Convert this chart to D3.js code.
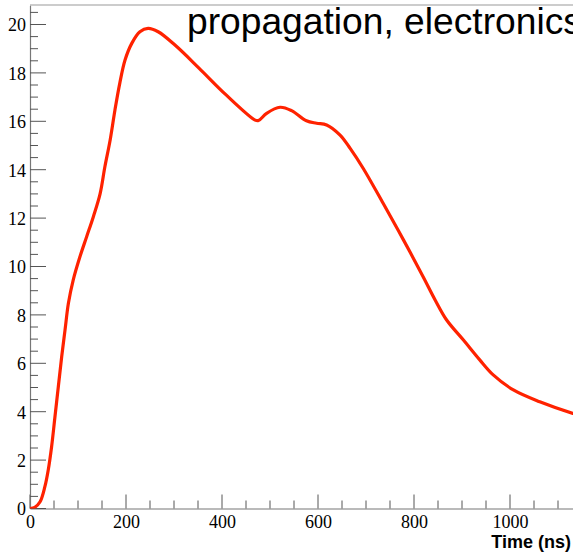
<!DOCTYPE html>
<html><head><meta charset="utf-8">
<script src="https://cdn.jsdelivr.net/npm/d3@7"></script>
<style>body{margin:0;background:#fff;} svg{display:block;}</style>
</head><body>
<script>
const timeNs = [0, 10, 21, 31, 38, 45, 52, 59, 66, 73, 80, 90, 104, 118, 132, 146, 156, 167, 177, 187, 198, 212, 229, 246, 267, 302, 352, 408, 469, 476, 493, 521, 545, 576, 597, 618, 646, 667, 694, 736, 778, 819, 844, 868, 903, 937, 965, 1007, 1062, 1131, 1160];
const signal = [0, 0.05, 0.28, 0.9, 1.59, 2.55, 3.79, 5.03, 6.27, 7.38, 8.48, 9.44, 10.4, 11.23, 12.06, 13.0, 14.12, 15.23, 16.47, 17.57, 18.53, 19.22, 19.70, 19.84, 19.70, 19.15, 18.2, 17.1, 16.05, 16.03, 16.33, 16.58, 16.44, 16.02, 15.92, 15.85, 15.43, 14.88, 14.06, 12.6, 11.1, 9.58, 8.62, 7.79, 6.96, 6.14, 5.52, 4.9, 4.41, 3.93, 3.78];
const xMajorTicks = [0, 200, 400, 600, 800, 1000];
const yMajorTicks = [0, 2, 4, 6, 8, 10, 12, 14, 16, 18, 20];
const titleText = "propagation, electronics";
const xTitle = "Time (ns)";

(function () {
const W = 573, H = 555;
const mLeft = 30, mBottom = 508.5, mTop = 5;
const xMax = 1150, yMax = 20.8;
const x = d3.scaleLinear().domain([0, xMax]).range([mLeft, mLeft + 0.48 * xMax]);
const y = d3.scaleLinear().domain([0, yMax]).range([mBottom, mBottom - 24.2 * yMax]);

const svg = d3.select("body").append("svg").attr("width", W).attr("height", H);

svg.append("clipPath").attr("id", "clip").append("rect")
  .attr("x", mLeft).attr("y", mTop).attr("width", x(xMax) - mLeft).attr("height", mBottom - mTop);

const axisColor = "#777";
svg.append("line").attr("x1", mLeft).attr("x2", x(xMax)).attr("y1", mTop).attr("y2", mTop).attr("stroke", "#999").attr("stroke-width", 1);

// x axis
const xMinor = d3.range(0, xMax + 1, 50).filter(v => !xMajorTicks.includes(v));
const xAxis = d3.axisBottom(x).tickValues(xMajorTicks).tickSize(0).tickFormat(d3.format("d"));
const gx = svg.append("g").attr("transform", `translate(0,${mBottom})`).call(xAxis);
gx.select(".domain").attr("stroke", axisColor).attr("stroke-width", 1.2);
gx.selectAll(".tick text").attr("font-family", "Liberation Serif, Times New Roman, serif")
  .attr("font-size", 18).attr("fill", "#000").attr("dy", null).attr("y", 19);
gx.selectAll(".tickmaj").data(xMajorTicks).enter().append("line")
  .attr("x1", d => x(d)).attr("x2", d => x(d)).attr("y1", 0).attr("y2", -14).attr("stroke", "#555");
gx.selectAll(".tickmin").data(xMinor).enter().append("line")
  .attr("x1", d => x(d)).attr("x2", d => x(d)).attr("y1", 0).attr("y2", -8).attr("stroke", "#555");

// y axis
const yMinor = d3.range(0, yMax, 0.5).filter(v => !yMajorTicks.includes(v));
const yAxis = d3.axisLeft(y).tickValues(yMajorTicks).tickSize(0).tickFormat(d3.format("d"));
const gy = svg.append("g").attr("transform", `translate(${mLeft},0)`).call(yAxis);
gy.select(".domain").attr("stroke", axisColor).attr("stroke-width", 1.2);
gy.selectAll(".tick text").attr("font-family", "Liberation Serif, Times New Roman, serif")
  .attr("font-size", 18).attr("fill", "#000").attr("x", -4).attr("dy", "0.36em");
gy.selectAll(".tickmaj").data(yMajorTicks).enter().append("line")
  .attr("x1", 0).attr("x2", 16).attr("y1", d => y(d)).attr("y2", d => y(d)).attr("stroke", "#555");
gy.selectAll(".tickmin").data(yMinor).enter().append("line")
  .attr("x1", 0).attr("x2", 8).attr("y1", d => y(d)).attr("y2", d => y(d)).attr("stroke", "#555");

// curve
const pts = timeNs.map((t, i) => [t, signal[i]]);
svg.append("path").datum(pts).attr("clip-path", "url(#clip)")
  .attr("fill", "none").attr("stroke", "#ff2200").attr("stroke-width", 3.2)
  .attr("stroke-linejoin", "round").attr("stroke-linecap", "round")
  .attr("d", d3.line().x(d => x(d[0])).y(d => y(d[1])).curve(d3.curveCatmullRom.alpha(0.5)));

// title
svg.append("text").attr("x", 187).attr("y", 34).text(titleText)
  .attr("font-family", "Liberation Sans, Arial, sans-serif").attr("font-size", 37.2).attr("fill", "#000");

// x axis title
svg.append("text").attr("x", 571).attr("y", 548).attr("text-anchor", "end").text(xTitle)
  .attr("font-family", "Liberation Sans, Arial, sans-serif").attr("font-weight", "bold").attr("font-size", 18).attr("fill", "#000");
})();
</script>
</body></html>
